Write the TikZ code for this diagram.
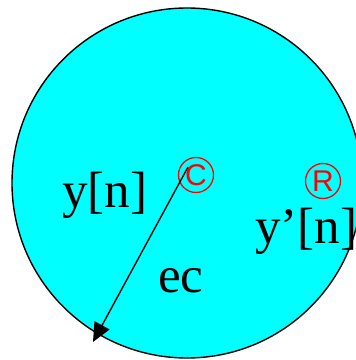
\documentclass[tikz,border=0pt]{standalone}
\usepackage{fontspec}
\setmainfont{Liberation Serif}
\newfontfamily\markfont{Liberation Sans}
\usepackage{tikz}
\usetikzlibrary{arrows.meta, positioning}
\usepackage{xcolor}
\definecolor{discfill}{HTML}{00FFFF}

\tikzset{
    biglabel/.style={anchor=base west, inner sep=0pt, font=\fontsize{51}{53}\selectfont},
    markcirc/.style={circle, draw=red, line width=1.3pt, minimum size=35pt, inner sep=0pt,
        text=red, font=\markfont\fontsize{30}{31}\selectfont}
}

\begin{document}
\begin{tikzpicture}[x=1pt, y=1pt]
    % 画布
    \useasboundingbox (0, 0) rectangle (356, 360);
    \clip (0, 0) rectangle (356, 360);

    % 圆盘
    \draw[fill=discfill, line width=1.4pt] (187, 177) circle (175);

    % 标记
    \node[markcirc] (cmark) at (196, 185) {C};
    \node[markcirc] (rmark) at (323, 179) {R};

    % 文字
    \node[biglabel] (yn) at (62, 153) {y[n]};
    \node[biglabel] (ypn) at (255, 117) {y’[n]};
    \node[biglabel] (ec) at (158, 67) {ec};

    % 箭头
    \coordinate (ecstart) at (188, 193);
    \coordinate (ectip) at (93, 18);
    \draw[-{Triangle[length=19pt, width=17pt]}, line width=1.4pt] (ecstart) -- (ectip);
\end{tikzpicture}
\end{document}
